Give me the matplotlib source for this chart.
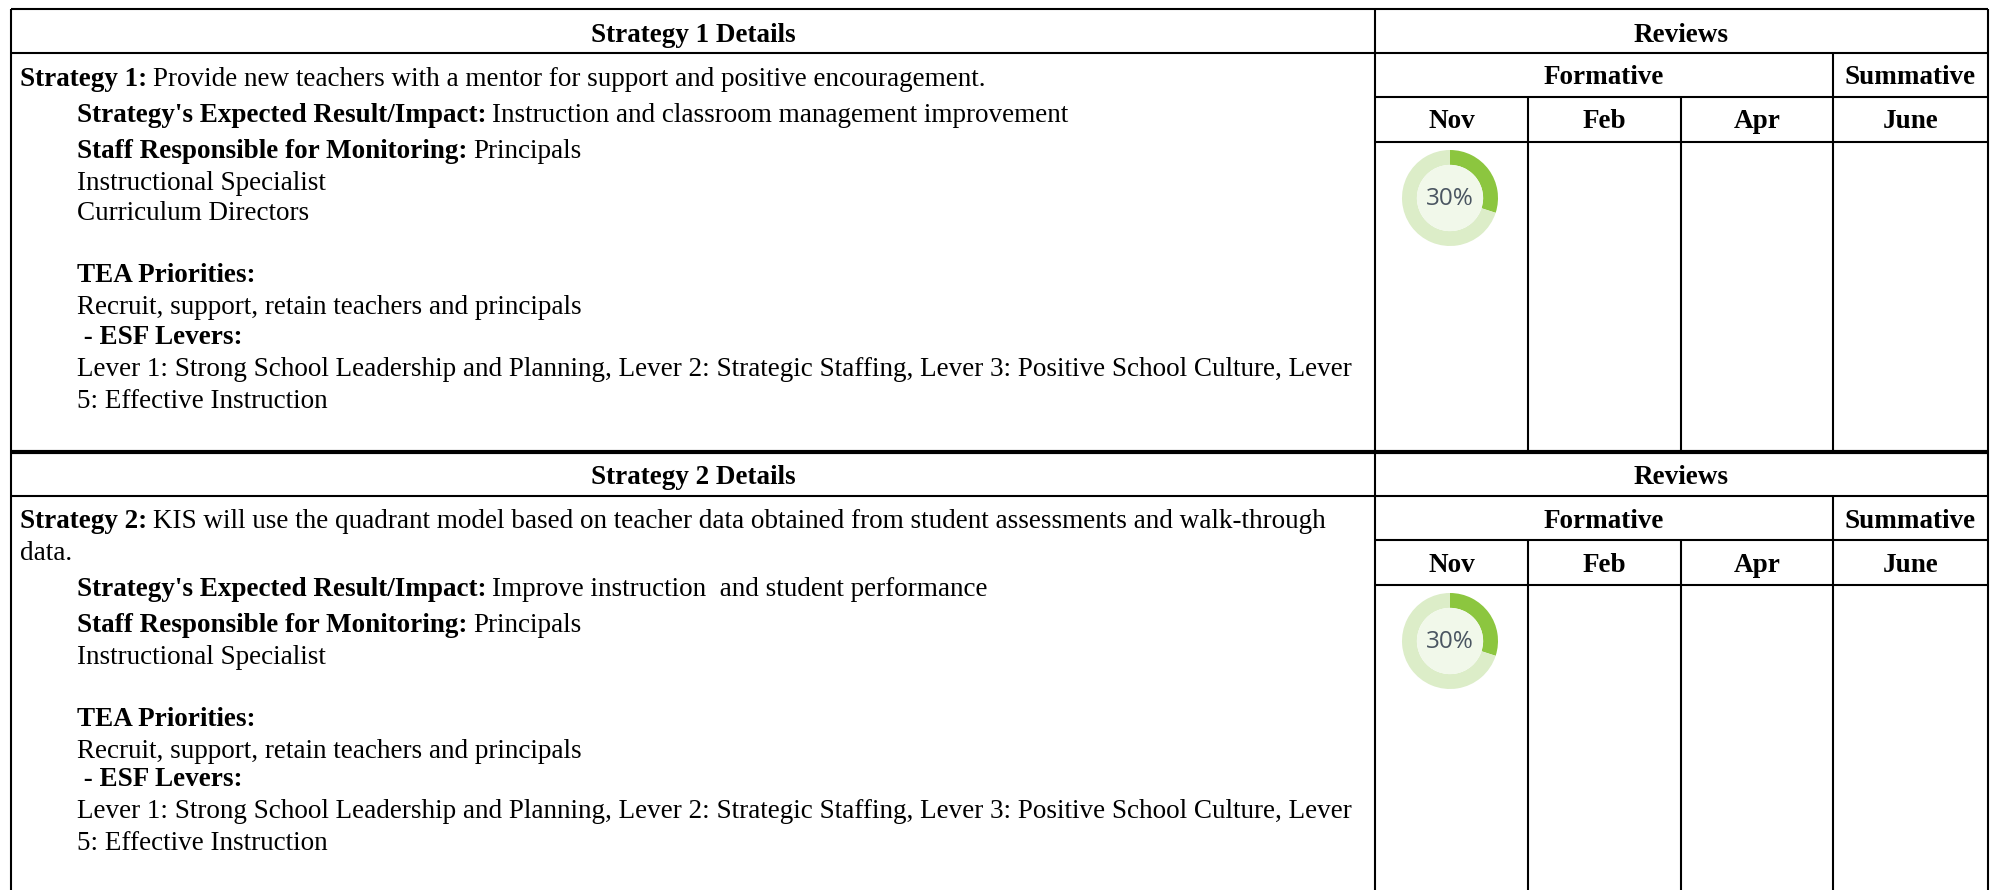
import matplotlib
matplotlib.use("Agg")
import matplotlib.pyplot as plt
from matplotlib.patches import Circle

W, H = 1993, 890
SERIF = "Liberation Serif"
FS = 19.5
DY = 3  # small vertical nudge for text

# data
review_periods = ["Nov", "Feb", "Apr", "June"]
review_groups = ["Formative", "Summative"]
section_titles = ["Strategy 1 Details", "Strategy 2 Details"]
strategy_labels = ["Strategy 1:", "Strategy 2:"]
strategy_text = [
    ["Provide new teachers with a mentor for support and positive encouragement."],
    ["KIS will use the quadrant model based on teacher data obtained from student assessments and walk-through",
     "data."],
]
expected_result = [
    "Instruction and classroom management improvement",
    "Improve instruction  and student performance",
]
staff = [
    ["Principals", "Instructional Specialist", "Curriculum Directors"],
    ["Principals", "Instructional Specialist"],
]
tea_priorities = "Recruit, support, retain teachers and principals"
esf_levers = ["Lever 1: Strong School Leadership and Planning, Lever 2: Strategic Staffing, Lever 3: Positive School Culture, Lever",
              "5: Effective Instruction"]
nov_progress = [30, 30]

fig = plt.figure(figsize=(W / 100, H / 100), dpi=100)
ax = fig.add_axes([0, 0, 1, 1])
ax.set_xlim(0, W)
ax.set_ylim(H, 0)
ax.axis("off")
fig.canvas.draw()
renderer = fig.canvas.get_renderer()

LW = 1.5
L, DIV, R = 11, 1375, 1988
cols = [1375, 1528, 1681, 1833, 1988]


def hline(y, x0, x1, lw=LW):
    ax.plot([x0, x1], [y, y], color="black", lw=lw, solid_capstyle="butt")


def vline(x, y0, y1, lw=LW):
    ax.plot([x, x], [y0, y1], color="black", lw=lw, solid_capstyle="butt")


def txt(x, y, s, bold=False, ha="left"):
    return ax.text(x, y + DY, s, fontsize=FS, family=SERIF, weight="bold" if bold else "normal",
                   va="center", ha=ha)


def mixed(x, y, bold, regular):
    t = txt(x, y, bold, bold=True)
    if regular:
        bb = t.get_window_extent(renderer)
        txt(bb.x1 + 6, y, regular)


def donut(cx, cy, r, pct):
    dax = fig.add_axes([(cx - r) / W, (H - cy - r) / H, 2 * r / W, 2 * r / H])
    dax.pie([pct, 100 - pct], colors=["#8cc63f", "#dcedc8"], startangle=90, counterclock=False,
            radius=1, wedgeprops=dict(width=0.31, linewidth=0))
    dax.add_patch(Circle((0, 0), 0.69, facecolor="#f1f8ea", edgecolor="none"))
    dax.text(0, -0.02, f"{pct}%", ha="center", va="center", fontsize=17.5, family="Open Sans",
             color="#4a5561")
    dax.set_xlim(-1, 1)
    dax.set_ylim(-1, 1)
    dax.axis("off")


def section(i, top, bottom):
    # grid
    hline(top + 44, L, R)
    hline(top + 88, DIV, R)
    hline(top + 133, DIV, R)
    vline(L, top, bottom)
    vline(DIV, top, bottom)
    vline(R, top, bottom)
    vline(cols[3], top + 44, bottom)
    for x in cols[1:3]:
        vline(x, top + 88, bottom)

    # headers
    txt((L + DIV) / 2, top + 23, section_titles[i], bold=True, ha="center")
    txt((DIV + R) / 2, top + 23, "Reviews", bold=True, ha="center")
    txt((cols[0] + cols[3]) / 2, top + 66, review_groups[0], bold=True, ha="center")
    txt((cols[3] + cols[4]) / 2, top + 66, review_groups[1], bold=True, ha="center")
    for k, m in enumerate(review_periods):
        txt((cols[k] + cols[k + 1]) / 2, top + 110, m, bold=True, ha="center")

    # body text
    x0, x1 = 20, 77
    y = top + 67
    mixed(x0, y, strategy_labels[i], strategy_text[i][0])
    for extra in strategy_text[i][1:]:
        y += 31
        txt(x0, y, extra)
    y += 36
    mixed(x1, y, "Strategy's Expected Result/Impact:", expected_result[i])
    y += 37
    mixed(x1, y, "Staff Responsible for Monitoring:", staff[i][0])
    for s in staff[i][1:]:
        y += 31
        txt(x1, y, s)
    y += 62
    mixed(x1, y, "TEA Priorities:", None)
    y += 32
    txt(x1, y, tea_priorities)
    y += 29
    mixed(x1, y, " - ESF Levers:", None)
    for lv in esf_levers:
        y += 32
        txt(x1, y, lv)

    donut(1450, top + 189, 48, nov_progress[i])


hline(9, L, R)
section(0, 9, 452)
section(1, 452, H + 5)
hline(452, L, R, lw=3)

fig.savefig("out.png", dpi=100)
